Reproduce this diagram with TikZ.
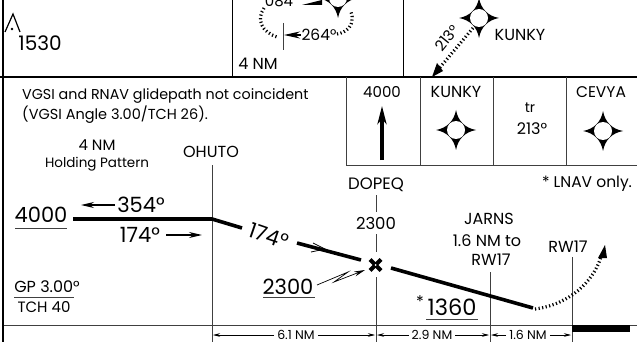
\documentclass[tikz,border=0pt]{standalone}
\usepackage{fontspec}
\setmainfont{Poppins}
\usetikzlibrary{arrows.meta,calc}
\tikzset{
  lbl/.style={inner sep=0pt,font=\fontsize{#1}{#1}\selectfont},
  lbl/.default=13,
  thin line/.style={draw=black!75,line width=0.8pt},
  rule/.style={draw=black,line width=1pt},
  heavy/.style={draw=black,line width=2pt},
  flight/.style={draw=black,line width=3.6pt},
  track/.style={draw=black,line width=3.2pt,dash pattern=on 1.2pt off 2.4pt},
  dim/.style={draw=black,line width=0.6pt,-{Stealth[length=7pt,width=3.5pt]}},
  course/.style={draw=black,line width=1.3pt,-{Stealth[length=13pt,width=6pt]}},
  fixstar/.pic={
    \fill[black] (0,-20) .. controls (2,-9) and (9,-2) .. (20,0)
       .. controls (9,2) and (2,9) .. (0,20)
       .. controls (-2,9) and (-9,2) .. (-20,0)
       .. controls (-9,-2) and (-2,-9) .. (0,-20) -- cycle;
    \fill[white] (0,0) circle (9);
  }
}
\begin{document}
\begin{tikzpicture}[x=1pt,y=-1pt]
\useasboundingbox (0,0) rectangle (637,342);
\clip (0,0) rectangle (637,342);
% coordinates
\coordinate (tl) at (3,0); \coordinate (bl) at (3,342);
\coordinate (hl) at (0,77); \coordinate (hr) at (637,77);
\coordinate (oh) at (212,219);
\coordinate (fa) at (73,219); \coordinate (fb) at (242,228);
\coordinate (fc) at (297,243); \coordinate (fd) at (361,260);
\coordinate (fe) at (391,268); \coordinate (ff) at (533,308);
\coordinate (x) at (375.5,265);
% frame
\draw[heavy] (tl) -- (bl);
\draw[heavy] (hl) -- (hr);
\draw[rule] (232,0) -- (232,77);
\draw[rule] (403,0) -- (403,77);
% table
\draw[thin line] (346,77) -- (346,165) -- (637,165);
\foreach \x in {420,493,566} \draw[thin line] (\x,77) -- (\x,165);
% lower rule and verticals
\draw[thin line] (4,325) -- (637,325);
\draw[thin line] (212,165) -- (212,342);
\draw[thin line] (376,195) -- (376,212);
\draw[thin line] (376,234) -- (376,252);
\draw[thin line] (376,277) -- (376,342);
\draw[thin line] (490,272) -- (490,342);
\draw[thin line] (572,257) -- (572,342);
\fill[black] (572,325) rectangle (630,332);
% obstacle
\draw[black,line width=1.2pt] (5,32) -- (13,14) -- (20,32);
\fill[black] (12,29) circle (1.4);
\node[lbl=20] (elev) at (40,43) {1530};
% holding
\pic at (338,-2) {fixstar};
\node[lbl=15,anchor=center] (hdg) at (279,1) {084};
\fill[black] (302,5) -- (322,0) -- (322,5) -- cycle;
\draw[track] (264,8) .. controls (256,20) and (262,32) .. (277,37);
\draw[track] (337,34) .. controls (345,33) and (356,26) .. (351,12);
\draw[thin line] (283,23) -- (283,50);
\draw[draw=black,line width=1.2pt,-{Stealth[length=16pt,width=7pt]}] (301,35) -- (284,35);
\node[lbl=15.5] (h264) at (319,35) {264°};
\node[lbl=16] (nm4) at (258,64) {4 NM};
% KUNKY planview
\pic at (479,18) {fixstar};
\node[lbl=16] (kk) at (520,35) {KUNKY};
\coordinate (ka) at (473,28); \coordinate (kb) at (432,77);
\draw[track,shorten >=10pt] (ka) -- (kb);
\fill[black] (432,77) -- (443,71) -- (437,63) -- cycle;
\node[lbl=15,rotate=51] (k213) at (447,38) {213°};
% text
\node[lbl=14.3,anchor=west] (n1) at (22,96) {VGSI and RNAV glidepath not coincident};
\node[lbl=14.5,anchor=west] (n2) at (22,115) {(VGSI Angle 3.00/TCH 26).};
\node[lbl=15] (n3) at (97,145) {4 NM};
\node[lbl=13.5] (n4) at (97,164) {Holding Pattern};
\node[lbl=16] (ohuto) at (211,152) {OHUTO};
% table text
\node[lbl=15] (t1) at (382,92) {4000};
\node[lbl=16] (t2) at (456,92) {KUNKY};
\node[lbl=14] (t3) at (530,108) {tr};
\node[lbl=16] (t4) at (532,129) {213°};
\node[lbl=15.5] (t5) at (601,92) {CEVYA};
\pic at (456,130) {fixstar};
\pic at (603,131) {fixstar};
\draw[draw=black,line width=3.4pt,-{Stealth[length=18pt,width=9pt,inset=5pt]}] (382,160) -- (382,106);
% profile
\draw[flight] (fa) -- (oh) -- (fb);
\draw[flight] (fc) -- (fd);
\draw[flight] (fe) -- (ff);
\draw[draw=black,line width=0.8pt] (313,243) -- (325,249) -- (311,252);
\node[lbl=21] (a4000) at (41,215) {4000};
\draw[thin line] (15,228) -- (67,228);
\node[lbl=21] (c354) at (141,205) {354°};
\draw[course] (115,205) -- (81,205);
\node[lbl=21] (c174) at (140,235) {174°};
\draw[course] (166,235) -- (202,235);
\node[lbl=21,rotate=-19] (r174) at (269,236) {174°};
\node[lbl=16] (gp) at (47,287) {GP 3.00°};
\draw[thin line] (14,297) -- (74,297);
\node[lbl=15] (tch) at (44,307) {TCH 40};
\node[lbl=21] (a2300) at (288,287) {2300};
\draw[thin line] (263,297) -- (315,297);
\draw[draw=black,line width=0.7pt,-{Stealth[length=11pt,width=5pt]}] (317,285) -- (348,272) -- (334,282) -- (365,270);
\node[lbl=16.5] (dopeq) at (376,185) {DOPEQ};
\node[lbl=16.5] (d2300) at (376,223) {2300};
\node[lbl=16] (j1) at (489,219) {JARNS};
\node[lbl=16] (j2) at (487,241) {1.6 NM to};
\node[lbl=16] (j3) at (491,260) {RW17};
\node[lbl=16] (rw) at (568,247) {RW17};
\node[lbl=15.5] (lnav) at (587,184) {* LNAV only.};
\node[lbl=16] (star) at (420,302) {*};
\node[lbl=22.5] (a1360) at (452,307) {1360};
\draw[thin line] (426,319) -- (478,319);
% stepdown fix
\draw[draw=black,line width=4pt] ($(x)+(-5.5,-5.5)$) -- ($(x)+(5.5,5.5)$);
\draw[draw=black,line width=4pt] ($(x)+(-5.5,5.5)$) -- ($(x)+(5.5,-5.5)$);
\fill[white] (x) circle (1);
% missed approach
\draw[track] (535,309) .. controls (560,306) and (590,290) .. (601,257);
\fill[black] (605,245) -- (598,258) -- (607,258) -- cycle;
% dimensions
\node[lbl=12.5] (d1) at (296,335) {6.1 NM};
\node[lbl=12.5] (d2) at (432,335) {2.9 NM};
\node[lbl=12.5] (d3) at (528,335) {1.6 NM};
\draw[dim] (d1.west) ++(-3,0) -- (213,335);
\draw[dim] (d1.east) ++(3,0) -- (375,335);
\draw[dim] (d2.west) ++(-3,0) -- (377,335);
\draw[dim] (d2.east) ++(3,0) -- (489,335);
\draw[dim] (d3.west) ++(-3,0) -- (491,335);
\draw[dim] (d3.east) ++(3,0) -- (571,335);
\end{tikzpicture}
\end{document}
